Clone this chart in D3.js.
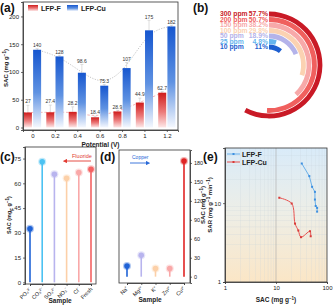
<!DOCTYPE html>
<html><head><meta charset="utf-8">
<script src="https://cdn.jsdelivr.net/npm/d3@7"></script>
<style>
body{margin:0;background:#fff}
svg{display:block;font-family:"Liberation Sans",Arial,sans-serif}
</style>
</head><body>
<svg id="fig" width="334" height="306"></svg>
<script>
// (a) SAC vs potential
const potentials = [0, 0.2, 0.4, 0.6, 0.8, 1, 1.2]
const sacF = [27, 27.4, 28.2, 18.4, 28.9, 44.9, 62.7]
const sacCu = [140, 128, 98.6, 75.3, 107, 175, 182]
const errF = [13, 13, 9, 2, 2, 8, 2]
const errCu = [2, 2, 15, 2, 10, 18, 2]
const yTicksA = [0, 50, 100, 150, 200]

// (b) radial bars
const ppmLabels = ['300 ppm', '200 ppm', '150 ppm', '100 ppm', '50 ppm', '25 ppm', '10 ppm']
const ppmPct = [57.7, 50.7, 38.2, 29.8, 18.9, 4.8, 11]
const ppmColors = ['#c91a26', '#f0605e', '#f7a9a9', '#fbd2b2', '#b4b3ea', '#66b5ee', '#1e5fd0']

// (c) anions
const anions = ['PO₄³⁻', 'CO₃²⁻', 'SO₄²⁻', 'NO₃⁻', 'Cl⁻', 'Fresh']
const anionSAC = [32.5, 73, 65.5, 63, 66.5, 68.5]
const anionColors = ['#1f62d6', '#4cc2f2', '#b8b4ee', '#fcd0a8', '#f9a8a8', '#f46262']
const yTicksC = [0, 15, 30, 45, 60, 75]

// (d) cations
const cations = ['Na⁺', 'Mg²⁺', 'K⁺', 'Zn²⁺', 'Cu²⁺']
const cationSAC = [17, 34, 13, 13, 183]
const cationColors = ['#1f62d6', '#b8b4ee', '#fcd0a8', '#f9a8a8', '#e02424']
const yTicksD = [0, 30, 60, 90, 120, 150, 180]

// (e) SAR vs SAC
const kinF_sac = [32, 45, 51, 58, 58, 60, 64, 64]
const kinF_sar = [31.8, 22, 16.1, 13.9, 11.1, 9.2, 8.7, 7.8]
const kinCu_sac = [11.6, 20.3, 23.6, 27.4, 30.9, 46.4, 47.9]
const kinCu_sar = [11.7, 9.9, 5.5, 4.5, 3.7, 4.4, 3.8]

const svg = d3.select('#fig')
const defs = svg.append('defs')

function vGrad(id, stops) {
  const g = defs.append('linearGradient').attr('id', id)
    .attr('x1', 0).attr('y1', 0).attr('x2', 0).attr('y2', 1)
  stops.forEach(s => g.append('stop').attr('offset', s[0]).attr('stop-color', s[1]))
}
vGrad('gBlue', [[0, '#1656cf'], [0.55, '#5f92e2'], [1, '#f5f8fe']])
vGrad('gRed', [[0, '#cf1b1b'], [0.55, '#ec7a7a'], [1, '#fde8e8']])
vGrad('gBg', [[0, '#d9ebf9'], [0.5, '#eeeee6'], [1, '#fbe6c6']])

function arrowMarker(id, col) {
  defs.append('marker').attr('id', id).attr('viewBox', '0 0 10 10')
    .attr('refX', 5).attr('refY', 5).attr('markerWidth', 5).attr('markerHeight', 5)
    .attr('orient', 'auto-start-reverse')
    .append('path').attr('d', 'M0,0L10,5L0,10z').attr('fill', col)
}
arrowMarker('arRed', '#e23a32')
arrowMarker('arBlue', '#2a6ad8')

function styleAxis(g, fs) {
  g.selectAll('path').attr('stroke', '#333').attr('stroke-width', 0.8)
  g.selectAll('line').attr('stroke', '#333').attr('stroke-width', 0.7)
  g.selectAll('text').style('font-size', (fs || 6) + 'px').attr('fill', '#222')
  return g
}
function frame(x0, y0, x1, y1) {
  svg.append('rect').attr('x', x0).attr('y', y0).attr('width', x1 - x0).attr('height', y1 - y0)
    .attr('fill', 'none').attr('stroke', '#333').attr('stroke-width', 0.8)
}
function panelTag(t, x, y) {
  svg.append('text').attr('x', x).attr('y', y).text(t)
    .style('font-size', '12px').style('font-weight', 'bold').attr('fill', '#111')
}
function vLabel(x, y, parts, fs) {
  const t = svg.append('text').attr('transform', `translate(${x},${y}) rotate(-90)`)
    .style('text-anchor', 'middle').style('font-size', (fs || 6) + 'px')
    .style('font-weight', 'bold').attr('fill', '#222')
  parts.forEach(p => {
    const s = t.append('tspan').text(p[0])
    if (p[1] === 'sup') s.attr('baseline-shift', 'super').style('font-size', '4.5px')
    if (p[1] === 'sub') s.attr('baseline-shift', 'sub').style('font-size', '4.5px')
  })
  return t
}

// ---------- (a)
const ax = d3.scaleLinear().domain([-0.085, 1.3]).range([23, 178])
const ay = d3.scaleLinear().domain([-4.5, 226]).range([130, 2])
const bw = 8, off = 4.6

const lineA = d3.line().curve(d3.curveBasis)
svg.append('path')
  .attr('d', lineA(potentials.map((p, i) => [ax(p) + off, ay(sacCu[i])])))
  .attr('fill', 'none').attr('stroke', '#b5b5b5').attr('stroke-width', 0.8)
  .attr('stroke-dasharray', '1.2,1.4')
svg.append('path')
  .attr('d', lineA([[ax(-0.085), ay(27)]].concat(potentials.map((p, i) => [ax(p) - off, ay(sacF[i])]))))
  .attr('fill', 'none').attr('stroke', '#f3a3a3').attr('stroke-width', 0.8)
  .attr('stroke-dasharray', '2.5,1.8')

const grpA = svg.append('g')
potentials.forEach((p, i) => {
  [[sacF[i], errF[i], -off, 'url(#gRed)'], [sacCu[i], errCu[i], off, 'url(#gBlue)']].forEach(s => {
    const cxp = ax(p) + s[2]
    grpA.append('line').attr('x1', cxp).attr('x2', cxp)
      .attr('y1', ay(s[0])).attr('y2', ay(s[0] + s[1]))
      .attr('stroke', '#c8c8c8').attr('stroke-width', 0.6)
    grpA.append('line').attr('x1', cxp - 1.5).attr('x2', cxp + 1.5)
      .attr('y1', ay(s[0] + s[1])).attr('y2', ay(s[0] + s[1]))
      .attr('stroke', '#c8c8c8').attr('stroke-width', 0.6)
    grpA.append('rect').attr('x', cxp - bw / 2).attr('width', bw)
      .attr('y', ay(s[0])).attr('height', ay(0) - ay(s[0]))
      .attr('fill', s[3])
    grpA.append('text').attr('x', cxp).attr('y', ay(s[0] + s[1]) - 1.8)
      .style('text-anchor', 'middle').style('font-size', '5px').attr('fill', '#333')
      .text(s[0])
  })
})

styleAxis(svg.append('g').attr('transform', 'translate(23,0)')
  .call(d3.axisLeft(ay).tickValues(yTicksA).tickSize(2).tickPadding(2)))
styleAxis(svg.append('g').attr('transform', 'translate(0,130)')
  .call(d3.axisBottom(ax).tickValues(potentials).tickSize(2).tickPadding(2).tickFormat(d => String(d))))
frame(23, 2, 178, 130)

svg.append('rect').attr('x', 28).attr('y', 5).attr('width', 10).attr('height', 6).attr('fill', 'url(#gRed)')
svg.append('text').attr('x', 41).attr('y', 10.5).text('LFP-F')
  .style('font-size', '7px').style('font-weight', 'bold').attr('fill', '#222')
svg.append('rect').attr('x', 67).attr('y', 5).attr('width', 11).attr('height', 6).attr('fill', 'url(#gBlue)')
svg.append('text').attr('x', 81).attr('y', 10.5).text('LFP-Cu')
  .style('font-size', '7px').style('font-weight', 'bold').attr('fill', '#222')

svg.append('text').attr('x', 100.5).attr('y', 147).style('text-anchor', 'middle')
  .style('font-size', '6.5px').style('font-weight', 'bold').attr('fill', '#222').text('Potential (V)')
vLabel(8, 68, [['SAC (mg g'], ['−1', 'sup'], [')']], 6)
panelTag('(a)', 0, 11.5)

// ---------- (b)
const bcx = 269, bcy = 65
const rr = d3.scaleLinear().domain([0, ppmLabels.length - 1]).range([51, 18])
const angle = d3.scaleLinear().domain([0, 100]).range([0, 2 * Math.PI])
const arcB = d3.arc()
const gB = svg.append('g').attr('transform', `translate(${bcx},${bcy})`)
ppmPct.forEach((v, i) => {
  const r = rr(i)
  gB.append('path').attr('d', arcB({innerRadius: r - 2.4, outerRadius: r + 2.4,
    startAngle: 0, endAngle: angle(v)})).attr('fill', ppmColors[i])
  svg.append('text').attr('x', 220).attr('y', bcy - r + 2.4).text(ppmLabels[i])
    .style('font-size', '6.8px').style('font-weight', 'bold').attr('fill', ppmColors[i])
  svg.append('text').attr('x', 268).attr('y', bcy - r + 2.4).text(v + '%')
    .style('text-anchor', 'end')
    .style('font-size', '6.8px').style('font-weight', 'bold').attr('fill', ppmColors[i])
})
panelTag('(b)', 193, 12)

// ---------- (c)
const cxs = d3.scalePoint().domain(anions).range([30, 91])
const cys = d3.scaleLinear().domain([-1, 82]).range([284, 147])
anions.forEach((a, i) => {
  svg.append('line').attr('x1', cxs(a)).attr('x2', cxs(a)).attr('y1', cys(0)).attr('y2', cys(anionSAC[i]))
    .attr('stroke', anionColors[i]).attr('stroke-width', 1.6)
  svg.append('circle').attr('cx', cxs(a)).attr('cy', cys(anionSAC[i])).attr('r', 4)
    .attr('fill', anionColors[i]).attr('opacity', 0.35)
  svg.append('circle').attr('cx', cxs(a)).attr('cy', cys(anionSAC[i])).attr('r', 2.8)
    .attr('fill', anionColors[i])
})
styleAxis(svg.append('g').attr('transform', 'translate(25,0)')
  .call(d3.axisLeft(cys).tickValues(yTicksC).tickSize(2).tickPadding(2)))
const cxa = styleAxis(svg.append('g').attr('transform', 'translate(0,284)')
  .call(d3.axisBottom(cxs).tickSize(2).tickPadding(2)))
cxa.selectAll('text').attr('transform', 'rotate(-45)').attr('x', -3).attr('y', 3)
  .attr('dy', '0.35em').style('text-anchor', 'end').style('font-size', '5.5px')
frame(25, 147, 96, 284)
svg.append('text').attr('x', 72).attr('y', 158).text('Fluoride')
  .style('font-size', '5.5px').attr('fill', '#e23a32')
svg.append('line').attr('x1', 91).attr('x2', 65).attr('y1', 161).attr('y2', 161)
  .attr('stroke', '#e23a32').attr('stroke-width', 0.9).attr('marker-end', 'url(#arRed)')
svg.append('text').attr('x', 60).attr('y', 303).style('text-anchor', 'middle')
  .style('font-size', '6.5px').style('font-weight', 'bold').attr('fill', '#222').text('Sample')
vLabel(11, 215, [['SAC (mg'], ['F', 'sub'], [' g'], ['−1', 'sup'], [')']], 5.5)
panelTag('(c)', 0, 161)

// ---------- (d)
const dxs = d3.scalePoint().domain(cations).range([127, 184])
const dys = d3.scaleLinear().domain([-10, 200.5]).range([283, 150])
cations.forEach((c, i) => {
  svg.append('line').attr('x1', dxs(c)).attr('x2', dxs(c)).attr('y1', dys(0)).attr('y2', dys(cationSAC[i]))
    .attr('stroke', cationColors[i]).attr('stroke-width', 1.6)
  svg.append('circle').attr('cx', dxs(c)).attr('cy', dys(cationSAC[i])).attr('r', 4)
    .attr('fill', cationColors[i]).attr('opacity', 0.35)
  svg.append('circle').attr('cx', dxs(c)).attr('cy', dys(cationSAC[i])).attr('r', 2.8)
    .attr('fill', cationColors[i])
})
styleAxis(svg.append('g').attr('transform', 'translate(190,0)')
  .call(d3.axisRight(dys).tickValues(yTicksD).tickSize(2).tickPadding(2)), 5.5)
const dxa = styleAxis(svg.append('g').attr('transform', 'translate(0,283)')
  .call(d3.axisBottom(dxs).tickSize(2).tickPadding(2)))
dxa.selectAll('text').attr('transform', 'rotate(-45)').attr('x', -3).attr('y', 3)
  .attr('dy', '0.35em').style('text-anchor', 'end').style('font-size', '5.5px')
frame(119, 150, 190, 283)
svg.append('text').attr('x', 132).attr('y', 159).text('Copper')
  .style('font-size', '5px').attr('fill', '#2a6ad8')
svg.append('line').attr('x1', 130).attr('x2', 148).attr('y1', 163).attr('y2', 163)
  .attr('stroke', '#2a6ad8').attr('stroke-width', 0.9).attr('marker-end', 'url(#arBlue)')
svg.append('text').attr('x', 150).attr('y', 302).style('text-anchor', 'middle')
  .style('font-size', '6.5px').style('font-weight', 'bold').attr('fill', '#222').text('Sample')
vLabel(205, 205, [['SAC (mg g'], ['−1', 'sup'], [')']], 6)
vLabel(211.5, 205, [['SAR (mg g'], ['−1', 'sup'], [' min'], ['−1', 'sup'], [')']], 6)
panelTag('(d)', 100, 161)

// ---------- (e)
const exs = d3.scaleLog().domain([1, 100]).range([225, 327])
const eys = d3.scaleLog().domain([1, 50]).range([282, 148])
svg.append('rect').attr('x', 225).attr('y', 148).attr('width', 102).attr('height', 134).attr('fill', 'url(#gBg)')
const gridX = [2, 3, 4, 5, 6, 7, 8, 9, 20, 30, 40, 50, 60, 70, 80, 90]
const gridY = [2, 3, 4, 5, 6, 7, 8, 9, 20, 30, 40]
gridX.forEach(v => svg.append('line').attr('x1', exs(v)).attr('x2', exs(v)).attr('y1', 148).attr('y2', 282)
  .attr('stroke', '#c9d3dc').attr('stroke-width', 0.35).attr('opacity', 0.7))
gridY.forEach(v => svg.append('line').attr('x1', 225).attr('x2', 327).attr('y1', eys(v)).attr('y2', eys(v))
  .attr('stroke', '#c9d3dc').attr('stroke-width', 0.35).attr('opacity', 0.7))
svg.append('line').attr('x1', exs(10)).attr('x2', exs(10)).attr('y1', 148).attr('y2', 282)
  .attr('stroke', '#a8a8a8').attr('stroke-width', 0.6)

const lineE = d3.line().x(d => exs(d[0])).y(d => eys(d[1]))
const ptsF = kinF_sac.map((v, i) => [v, kinF_sar[i]])
const ptsCu = kinCu_sac.map((v, i) => [v, kinCu_sar[i]])
svg.append('path').attr('d', lineE(ptsF)).attr('fill', 'none').attr('stroke', '#6ab0ea').attr('stroke-width', 1)
svg.append('path').attr('d', lineE.curve(d3.curveCatmullRom)(ptsCu)).attr('fill', 'none')
  .attr('stroke', '#e8504e').attr('stroke-width', 1)
ptsF.forEach(d => svg.append('rect').attr('x', exs(d[0]) - 1).attr('y', eys(d[1]) - 1)
  .attr('width', 2).attr('height', 2).attr('fill', '#3d8fe0'))
ptsCu.forEach(d => svg.append('rect').attr('x', exs(d[0]) - 1).attr('y', eys(d[1]) - 1)
  .attr('width', 2).attr('height', 2).attr('fill', '#d83a38'))

styleAxis(svg.append('g').attr('transform', 'translate(225,0)')
  .call(d3.axisLeft(eys).tickValues([1, 10]).tickFormat(d3.format('d')).tickSize(2).tickPadding(2)))
styleAxis(svg.append('g').attr('transform', 'translate(0,282)')
  .call(d3.axisBottom(exs).tickValues([1, 10, 100]).tickFormat(d3.format('d')).tickSize(2).tickPadding(2)))
frame(225, 148, 327, 282)

svg.append('line').attr('x1', 227).attr('x2', 240).attr('y1', 154).attr('y2', 154)
  .attr('stroke', '#6ab0ea').attr('stroke-width', 1)
svg.append('rect').attr('x', 232.5).attr('y', 153).attr('width', 2).attr('height', 2).attr('fill', '#3d8fe0')
svg.append('text').attr('x', 242).attr('y', 156.5).text('LFP-F')
  .style('font-size', '7px').style('font-weight', 'bold').attr('fill', '#222')
svg.append('line').attr('x1', 227).attr('x2', 240).attr('y1', 162).attr('y2', 162)
  .attr('stroke', '#e8504e').attr('stroke-width', 1)
svg.append('rect').attr('x', 232.5).attr('y', 161).attr('width', 2).attr('height', 2).attr('fill', '#d83a38')
svg.append('text').attr('x', 242).attr('y', 164.5).text('LFP-Cu')
  .style('font-size', '7px').style('font-weight', 'bold').attr('fill', '#222')

const xl = svg.append('text').attr('x', 276).attr('y', 302).style('text-anchor', 'middle')
  .style('font-size', '6.5px').style('font-weight', 'bold').attr('fill', '#222')
xl.append('tspan').text('SAC (mg g')
xl.append('tspan').text('−1').attr('baseline-shift', 'super').style('font-size', '4.5px')
xl.append('tspan').text(')')
panelTag('(e)', 203, 161)
</script>
</body></html>
